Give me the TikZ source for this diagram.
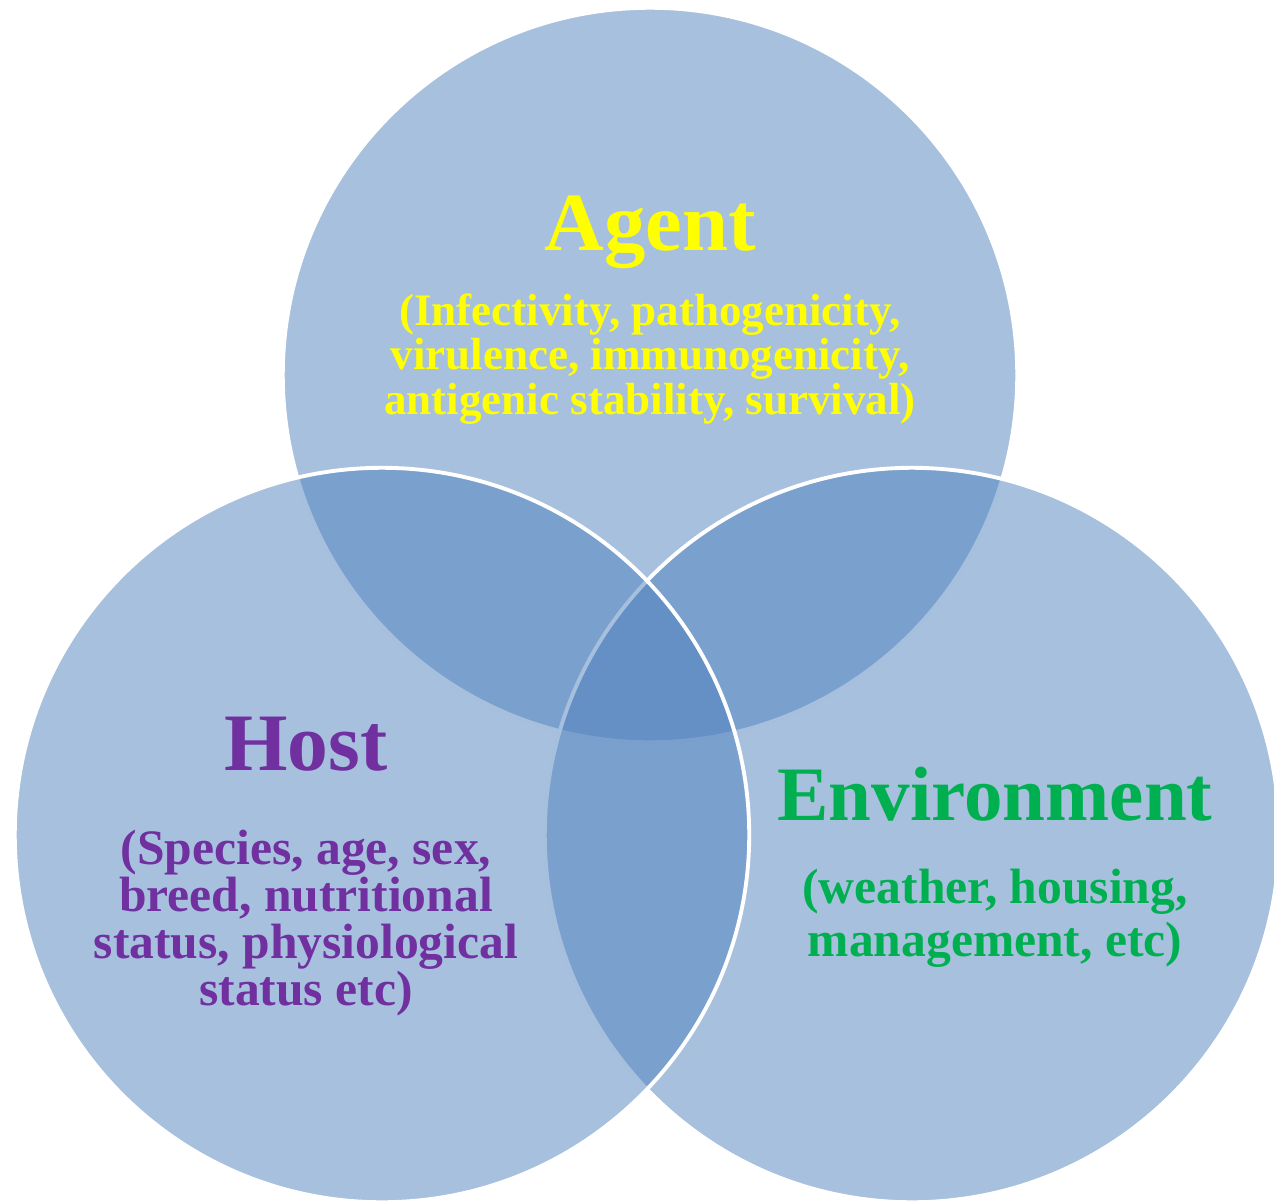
\documentclass[tikz,border=0pt]{standalone}
\usepackage{fontspec}
\setmainfont{Liberation Serif}
\usetikzlibrary{positioning}
\definecolor{vennblue}{HTML}{4F81BD}
\definecolor{agentyellow}{HTML}{FFFF00}
\definecolor{hostpurple}{HTML}{7030A0}
\definecolor{envgreen}{HTML}{00B050}
\tikzset{
  venn/.style={fill=vennblue,fill opacity=0.5,draw=white,line width=1.1pt},
  title/.style={anchor=base,font=\bfseries\fontsize{#1}{#1}\selectfont},
  facts/.style 2 args={align=center,font=\bfseries\fontsize{#1}{#2}\selectfont}
}

\begin{document}
\begin{tikzpicture}[x=0.01cm,y=0.01cm]
\useasboundingbox (0,0) rectangle (1274,1202);
\coordinate (A) at (650,827);
\coordinate (H) at (382,367);
\coordinate (E) at (912,367);
% agent first, then environment, host on top
\path[venn] (A) circle[radius=3.67cm];
\path[venn] (E) circle[radius=3.67cm];
\path[venn] (H) circle[radius=3.67cm];

\node[title=23.5,text=agentyellow] (agent) at (650,952) {Agent};
\node[facts={12.8}{11.1},text=agentyellow] (agentfacts) at (650,843)
  {(Infectivity, pathogenicity,\\virulence, immunogenicity,\\antigenic stability, survival)};
\node[title=23.2,text=hostpurple] (host) at (306,432) {Host};
\node[facts={14.1}{13.3},text=hostpurple] (hostfacts) at (306,279)
  {(Species, age, sex,\\breed, nutritional\\status, physiological\\status etc)};
\node[title=21.9,text=envgreen] (env) at (995,382) {Environment};
\node[facts={14.1}{15},text=envgreen] (envfacts) at (995,284)
  {(weather, housing,\\management, etc)};
\end{tikzpicture}
\end{document}
